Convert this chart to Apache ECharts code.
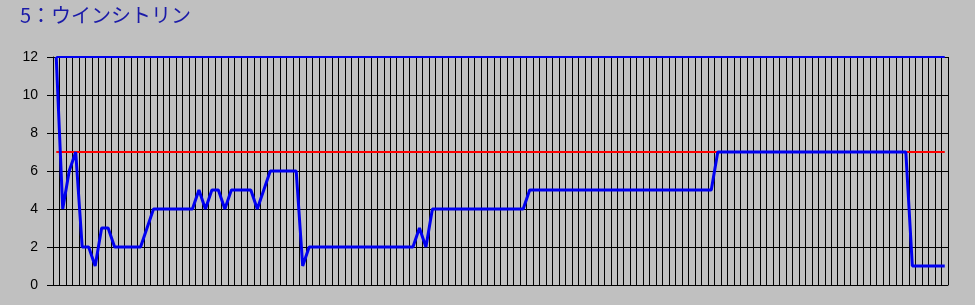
<!DOCTYPE html>
<html>
<head>
<meta charset="utf-8">
<script src="https://cdn.jsdelivr.net/npm/echarts@6/dist/echarts.min.js"></script>
<style>
html,body{margin:0;padding:0;background:#c0c0c0;}
#c{width:975px;height:305px;}
</style>
</head>
<body>
<div id="c"></div>
<script>
const titleText = "5：ウインシトリン";
const yTicks = [0, 2, 4, 6, 8, 10, 12];
const rankValues = [
  12, 4, 6, 7, 2, 2, 1, 3, 3, 2,
  2, 2, 2, 2, 3, 4, 4, 4, 4, 4,
  4, 4, 5, 4, 5, 5, 4, 5, 5, 5,
  5, 4, 5, 6, 6, 6, 6, 6, 1, 2,
  2, 2, 2, 2, 2, 2, 2, 2, 2, 2,
  2, 2, 2, 2, 2, 2, 3, 2, 4, 4,
  4, 4, 4, 4, 4, 4, 4, 4, 4, 4,
  4, 4, 4, 5, 5, 5, 5, 5, 5, 5,
  5, 5, 5, 5, 5, 5, 5, 5, 5, 5,
  5, 5, 5, 5, 5, 5, 5, 5, 5, 5,
  5, 5, 7, 7, 7, 7, 7, 7, 7, 7,
  7, 7, 7, 7, 7, 7, 7, 7, 7, 7,
  7, 7, 7, 7, 7, 7, 7, 7, 7, 7,
  7, 7, 1, 1, 1, 1, 1, 1
];
const categories = rankValues.map((_, i) => String(i + 1));
const thresholdValue = 7;
const fieldSize = 12;

const chart = echarts.init(document.getElementById('c'), null, {renderer: 'canvas'});
const first = categories[0];
const last = categories[categories.length - 1];
chart.setOption({
  animation: false,
  backgroundColor: '#c0c0c0',
  title: {
    text: titleText,
    left: 15,
    top: 0,
    textStyle: {
      color: '#1a1aa8',
      fontSize: 20,
      fontWeight: 'normal',
      fontFamily: '"Noto Sans CJK TC", "Noto Sans CJK JP", "Liberation Sans", sans-serif'
    }
  },
  grid: {left: 53, right: 27, top: 57, bottom: 20, containLabel: false},
  xAxis: {
    type: 'category',
    data: categories,
    boundaryGap: true,
    axisLine: {show: true, lineStyle: {color: '#000', width: 1}},
    axisTick: {show: false},
    axisLabel: {show: false},
    splitLine: {show: true, interval: 0, lineStyle: {color: '#000', width: 1}}
  },
  yAxis: {
    type: 'value',
    min: yTicks[0],
    max: yTicks[yTicks.length - 1],
    interval: 2,
    axisLine: {show: true, lineStyle: {color: '#000', width: 1}},
    axisTick: {show: true, length: 6, lineStyle: {color: '#000'}},
    axisLabel: {
      margin: 15,
      color: '#000',
      fontSize: 14,
      fontFamily: '"Liberation Sans", Arial, sans-serif'
    },
    splitLine: {show: true, lineStyle: {color: '#000', width: 1}}
  },
  series: [
    {
      type: 'line',
      data: [],
      silent: true,
      markLine: {
        symbol: 'none',
        silent: true,
        label: {show: false},
        data: [
          [{coord: [first, thresholdValue], lineStyle: {color: '#ff0000', width: 2, type: 'solid'}},
           {coord: [last, thresholdValue]}],
          [{coord: [first, fieldSize], lineStyle: {color: '#0000f0', width: 2, type: 'solid'}},
           {coord: [last, fieldSize]}]
        ]
      }
    },
    {
      type: 'line',
      data: rankValues,
      showSymbol: false,
      symbol: 'none',
      lineStyle: {color: '#0000f0', width: 3},
      itemStyle: {color: '#0000f0'},
      z: 5
    }
  ]
});
</script>
</body>
</html>
